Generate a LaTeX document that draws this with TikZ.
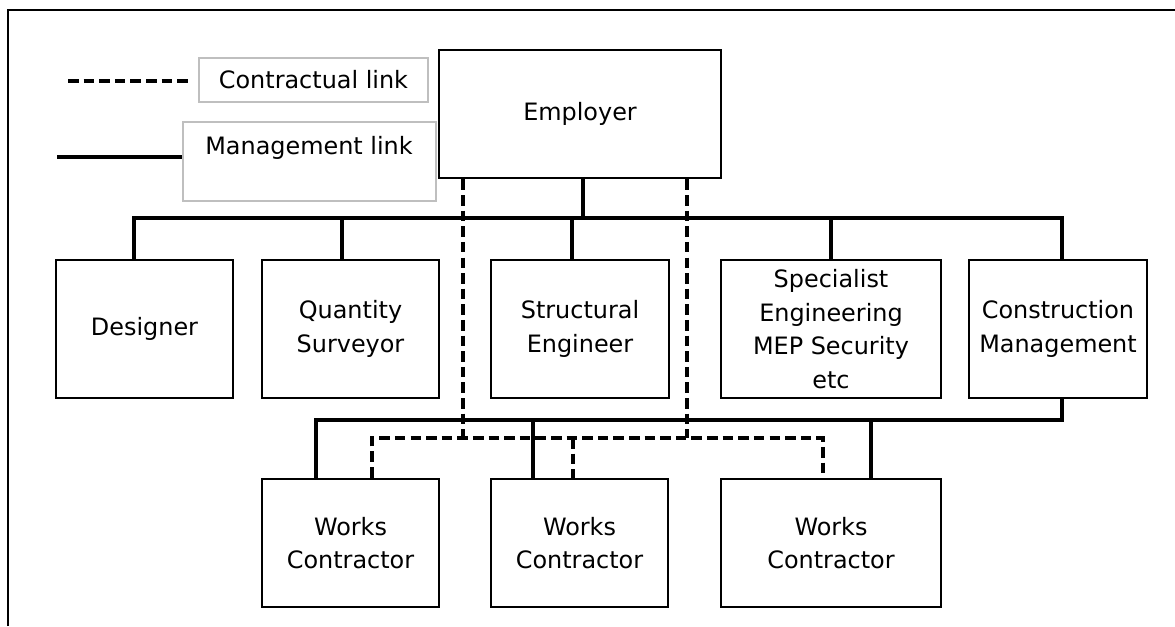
\documentclass[tikz,border=0pt]{standalone}
\usepackage{fontspec}
\setmainfont{DejaVu Sans}

% one drawing unit = one pixel of the 1175 x 626 sheet
\newcommand{\pxu}{0.025cm}
\newcommand{\boxfont}{\fontsize{17}{24}\selectfont}

\begin{document}
\begin{tikzpicture}[x=\pxu, y=-\pxu,
    party/.style={draw, line width=2.1pt, align=center, inner sep=0pt, font=\boxfont},
    boxsize/.style 2 args={minimum width=#1*\pxu, minimum height=#2*\pxu},
    legbox/.style={draw=black!25, line width=1.2pt, inner sep=0pt, font=\boxfont},
    mgmt/.style={line width=3.4pt},
    contr/.style={line width=3.4pt, dash pattern=on 7.5pt off 3.6pt}]
    \useasboundingbox (0,0) rectangle (1175,626);

    % sheet frame (top and left edges only)
    \draw[line width=2.1pt] (8,626) -- (8,10) -- (1175,10);

    % Legend
    \node[legbox, boxsize={229}{44}] (contrkey) at (313.5,80) {Contractual link};
    \node[legbox, boxsize={253}{79}] (mgmtkey) at (309.5,161.5) {};
    \node[font=\boxfont] (mgmtkeytxt) at (309,148) {Management link};
    \coordinate (contrstart) at (68,81);
    \coordinate (mgmtstart) at (57,157);
    \draw[contr, shorten >=5pt] (contrstart) -- (contrstart -| contrkey.west);
    \draw[mgmt] (mgmtstart) -- (mgmtstart -| mgmtkey.west);

    % Parties
    \node[party, boxsize={282}{128}] (emp) at (580,114) {Employer};

    \node[party, boxsize={177}{138}] (des) at (144.5,329) {Designer};
    \node[party, boxsize={177}{138}] (qs) at (350.5,329) {Quantity\\Surveyor};
    \node[party, boxsize={178}{138}] (se) at (580,329) {Structural\\Engineer};
    \node[party, boxsize={220}{138}] (spec) at (831,329) {Specialist\\Engineering\\MEP Security\\etc};
    \node[party, boxsize={178}{138}] (cm) at (1058,329) {Construction\\Management};

    \node[party, boxsize={177}{128}] (wc1) at (350.5,543) {Works\\Contractor};
    \node[party, boxsize={177}{128}] (wc2) at (579.5,543) {Works\\Contractor};
    \node[party, boxsize={220}{128}] (wc3) at (831,543) {Works\\Contractor};

    % Management links: employer to consultants
    \coordinate (busL) at (134,218);
    \coordinate (busR) at (1062,218);
    \draw[mgmt] (des.north -| busL) |- (busR) -- (busR |- cm.north);
    \draw[mgmt] (emp.south -| 583,0) -- (583,218);
    \foreach \n/\x in {qs/342, se/572, spec/831}
        \draw[mgmt] (\x,218) -- (\n.north -| \x,0);

    % Management links: construction manager to works contractors
    \coordinate (lowbus) at (1062,420);
    \draw[mgmt] (cm.south -| lowbus) -- (lowbus) -| (wc1.north -| 316,0);
    \foreach \n/\x in {wc2/533, wc3/871}
        \draw[mgmt] (\x,420) -- (\n.north -| \x,0);

    % Contractual links: employer to works contractors
    \draw[contr] (emp.south -| 463,0) -- (463,438);
    \draw[contr] (emp.south -| 687,0) -- (687,438);
    \draw[contr] (wc1.north -| 372,0) -- (372,438) -| (wc3.north -| 823,0);
    \draw[contr] (573,438) -- (wc2.north -| 573,0);
\end{tikzpicture}
\end{document}
